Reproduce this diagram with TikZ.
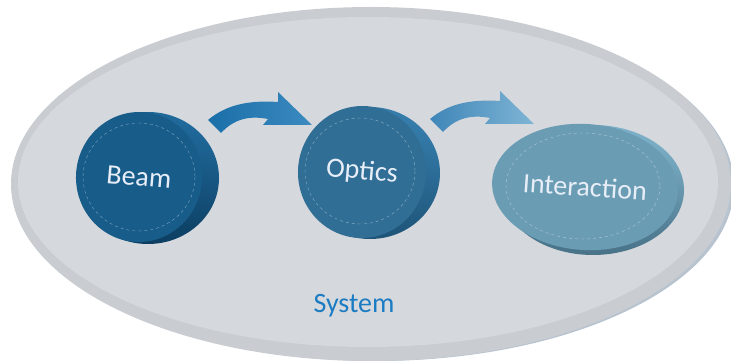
\documentclass[tikz,border=0pt]{standalone}
\usepackage{fontspec}
\setmainfont{Carlito}
\usetikzlibrary{shapes.geometric, shadings}

\definecolor{ringgray}{HTML}{C9CCD1}
\definecolor{fieldgray}{HTML}{D5D8DC}
\definecolor{edgeblue}{HTML}{B7C4D0}
\definecolor{labelwhite}{HTML}{E8EEF8}
\definecolor{systemblue}{HTML}{1B7CC3}
\definecolor{beamface}{RGB}{24,92,138}
\definecolor{beamdark}{RGB}{12,62,98}
\definecolor{beamlight}{RGB}{36,114,166}
\definecolor{opticsface}{RGB}{48,110,150}
\definecolor{opticsdark}{RGB}{30,84,120}
\definecolor{opticslight}{RGB}{58,134,184}
\definecolor{interface}{RGB}{106,156,180}
\definecolor{interdark}{RGB}{72,114,136}
\definecolor{interlight}{RGB}{134,188,212}
\definecolor{arrowAleft}{RGB}{26,111,168}
\definecolor{arrowAright}{RGB}{60,138,192}
\definecolor{arrowBleft}{RGB}{63,134,184}
\definecolor{arrowBright}{RGB}{127,181,213}

% one curved block arrow, drawn from its tail corner
\newcommand{\flowarrow}[3]{%
  \begin{scope}[shift={(#1)}]
    \shade[left color=#2, right color=#3]
      (0,0) .. controls (18,-15) and (40,-20) .. (70,-18)
      -- (70,-28) -- (104,5) -- (55,5) -- (60,-1)
      .. controls (40,-5) and (25,0) .. (13,13) -- cycle;
  \end{scope}}

\begin{document}
\begin{tikzpicture}[
    x=1pt, y=-1pt,
    disc/.style={ellipse, inner sep=0pt, text=labelwhite,
      font=\fontsize{28}{30}\selectfont},
    ring/.style={dashed, white, opacity=0.45, line width=0.4pt}
]

\useasboundingbox (0,0) rectangle (731,363);
\fill[white] (0,0) rectangle (731,363);

% the system field
\fill[edgeblue] (376,186) ellipse (358 and 175);
\fill[ringgray] (371,184) ellipse (360 and 177);
\fill[fieldgray] (368,182) ellipse (350 and 165);

% discs: rim first, then the face
\shade[upper right=beamlight, lower left=beamdark, upper left=beamface,
  lower right=beamdark] (148,178) ellipse (71 and 66);
\node[disc, fill=beamface, minimum width=126, minimum height=130,
  rotate=-5] (beam) at (139,177) {Beam};
\draw[ring] (139,177) ellipse (56 and 54);

\shade[upper right=opticslight, lower left=opticsdark, upper left=opticsface,
  lower right=opticsdark] (370,173) ellipse (70 and 66);
\node[disc, fill=opticsface, minimum width=128, minimum height=132,
  rotate=-5] (optics) at (362,172) {Optics};
\draw[ring] (360,171) ellipse (55 and 53);

\shade[upper right=interlight, lower left=interdark, upper left=interface,
  lower right=interdark] (593,190) ellipse (91 and 65);
\node[disc, fill=interface, minimum width=186, minimum height=126,
  rotate=-4] (interaction) at (585,187) {Interaction};
\draw[ring] (583,186) ellipse (77 and 53);

% arrows between the discs
\coordinate (tailA) at (208,120);
\coordinate (tailB) at (430,119);
\flowarrow{tailA}{arrowAleft}{arrowAright}
\flowarrow{tailB}{arrowBleft}{arrowBright}

\node[text=systemblue, font=\fontsize{28}{30}\selectfont] (system) at (354,306) {System};

\end{tikzpicture}
\end{document}
